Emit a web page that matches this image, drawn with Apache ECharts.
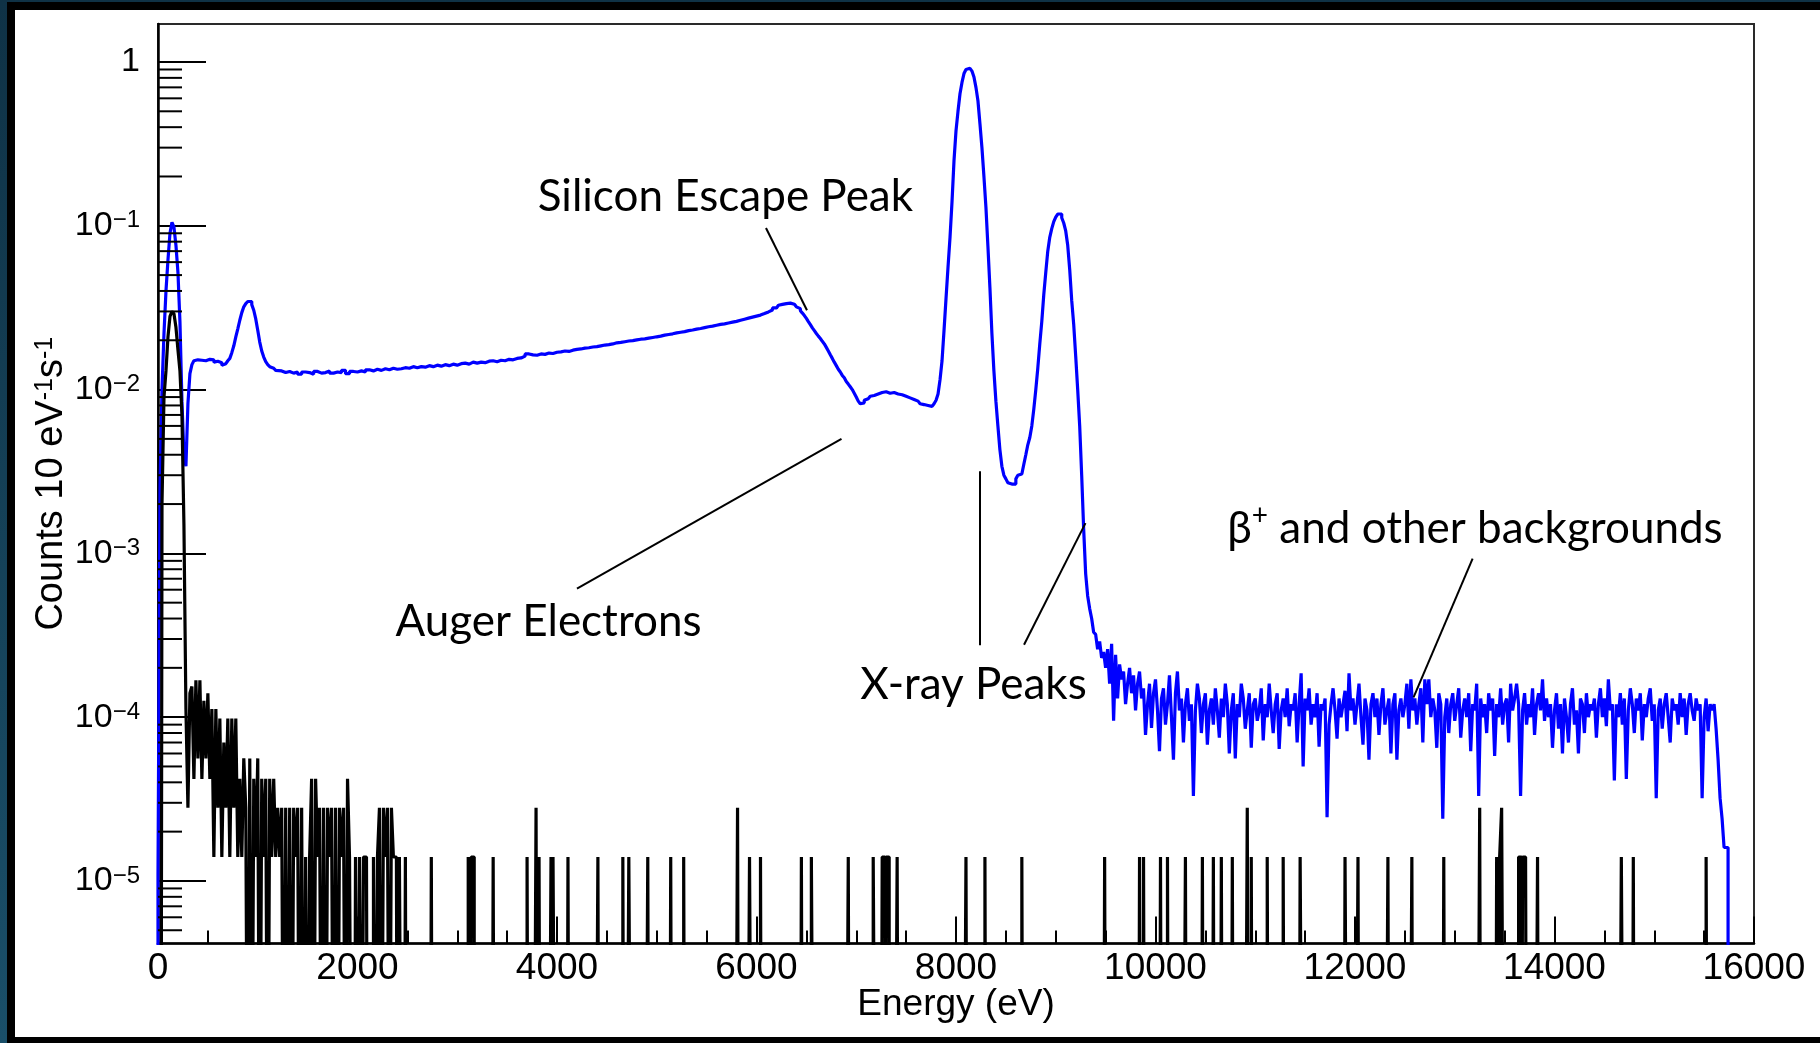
<!DOCTYPE html>
<html>
<head>
<meta charset="utf-8">
<title>Energy spectrum</title>
<script src="https://cdn.jsdelivr.net/npm/echarts@6/dist/echarts.min.js"></script>
<style>
  html, body { margin: 0; padding: 0; width: 1820px; height: 1043px; overflow: hidden;
    background: linear-gradient(180deg, #0f3246 0%, #1a4f69 100%); }
  #panel { position: absolute; left: 7px; top: 2px; width: 1830px; height: 1043px;
    box-sizing: border-box; border: 8px solid #000; background: #fff; }
  #chart { position: absolute; left: 0; top: 0; width: 1820px; height: 1043px; }
</style>
</head>
<body>
<div id="panel"></div>
<div id="chart"></div>
<script>
// ---- Spectrum data (counts per 10 eV per second) ----

// Blue spectrum, 0-400 eV, 20 eV bins
const blueLowStart = 0, blueLowWidth = 20;
const blueLow = [
  1.1e-5, 2.5e-3, 1.0e-2, 2.2e-2, 4.0e-2, 6.2e-2, 9.0e-2, 0.105, 9.8e-2, 7.6e-2,
  5.2e-2, 2.6e-2, 8.5e-3, 4.0e-3, 3.4e-3, 8.2e-3, 1.25e-2, 1.42e-2, 1.5e-2, 1.52e-2
];

// Blue spectrum, 400-1200 eV, 20 eV bins (shelf and the ~0.9 keV line)
const blueLineStart = 400, blueLineWidth = 20;
const blueLine = [
  1.49e-2, 1.51e-2, 1.52e-2, 1.5e-2, 1.5e-2, 1.53e-2, 1.55e-2, 1.52e-2, 1.47e-2, 1.49e-2,
  1.5e-2, 1.46e-2, 1.41e-2, 1.44e-2, 1.46e-2, 1.5e-2, 1.55e-2, 1.68e-2, 1.85e-2, 2.1e-2,
  2.35e-2, 2.65e-2, 2.95e-2, 3.2e-2, 3.35e-2, 3.45e-2, 3.45e-2, 3.3e-2, 3.05e-2, 2.7e-2,
  2.3e-2, 1.95e-2, 1.72e-2, 1.58e-2, 1.48e-2, 1.42e-2, 1.38e-2, 1.35e-2, 1.33e-2, 1.31e-2
];

// Blue spectrum, 1200-6200 eV, 40 eV bins (slowly rising continuum)
const blueFlatStart = 1200, blueFlatWidth = 40;
const blueFlat = [
  1.3e-2, 1.27e-2, 1.29e-2, 1.26e-2, 1.28e-2, 1.24e-2, 1.28e-2, 1.27e-2, 1.24e-2, 1.29e-2,
  1.26e-2, 1.27e-2, 1.3e-2, 1.26e-2, 1.28e-2, 1.27e-2, 1.31e-2, 1.25e-2, 1.29e-2, 1.28e-2,
  1.3e-2, 1.28e-2, 1.32e-2, 1.3e-2, 1.33e-2, 1.31e-2, 1.34e-2, 1.32e-2, 1.35e-2, 1.33e-2,
  1.34e-2, 1.36e-2, 1.35e-2, 1.38e-2, 1.36e-2, 1.38e-2, 1.37e-2, 1.4e-2, 1.38e-2, 1.41e-2,
  1.39e-2, 1.42e-2, 1.4e-2, 1.43e-2, 1.41e-2, 1.44e-2, 1.45e-2, 1.43e-2, 1.47e-2, 1.45e-2,
  1.47e-2, 1.46e-2, 1.49e-2, 1.5e-2, 1.48e-2, 1.51e-2, 1.5e-2, 1.53e-2, 1.52e-2, 1.55e-2,
  1.56e-2, 1.6e-2, 1.65e-2, 1.63e-2, 1.62e-2, 1.65e-2, 1.64e-2, 1.67e-2, 1.66e-2, 1.69e-2,
  1.7e-2, 1.72e-2, 1.71e-2, 1.74e-2, 1.76e-2, 1.77e-2, 1.79e-2, 1.8e-2, 1.82e-2, 1.83e-2,
  1.85e-2, 1.87e-2, 1.88e-2, 1.9e-2, 1.93e-2, 1.94e-2, 1.96e-2, 1.98e-2, 1.99e-2, 2.01e-2,
  2.03e-2, 2.04e-2, 2.06e-2, 2.08e-2, 2.1e-2, 2.12e-2, 2.15e-2, 2.17e-2, 2.19e-2, 2.22e-2,
  2.24e-2, 2.26e-2, 2.29e-2, 2.31e-2, 2.34e-2, 2.36e-2, 2.39e-2, 2.42e-2, 2.44e-2, 2.47e-2,
  2.5e-2, 2.52e-2, 2.55e-2, 2.58e-2, 2.61e-2, 2.65e-2, 2.69e-2, 2.73e-2, 2.77e-2, 2.81e-2,
  2.85e-2, 2.91e-2, 2.98e-2, 3.06e-2, 3.15e-2
];

// Blue spectrum, 6200-7720 eV, 20 eV bins (escape peak edge and Auger region)
const blueEscStart = 6200, blueEscWidth = 20;
const blueEsc = [
  3.22e-2, 3.27e-2, 3.31e-2, 3.34e-2, 3.35e-2, 3.37e-2, 3.37e-2, 3.35e-2, 3.32e-2, 3.27e-2,
  3.2e-2, 3.12e-2, 3.03e-2, 2.93e-2, 2.83e-2, 2.72e-2, 2.6e-2, 2.49e-2, 2.38e-2, 2.29e-2,
  2.2e-2, 2.12e-2, 2.05e-2, 1.97e-2, 1.9e-2, 1.81e-2, 1.72e-2, 1.63e-2, 1.55e-2, 1.47e-2,
  1.4e-2, 1.33e-2, 1.28e-2, 1.22e-2, 1.18e-2, 1.12e-2, 1.08e-2, 1.04e-2, 1.0e-2, 9.5e-3,
  9.0e-3, 8.5e-3, 8.2e-3, 8.3e-3, 8.6e-3, 8.8e-3, 9.0e-3, 9.1e-3, 9.2e-3, 9.3e-3,
  9.4e-3, 9.5e-3, 9.6e-3, 9.6e-3, 9.7e-3, 9.6e-3, 9.5e-3, 9.5e-3, 9.6e-3, 9.5e-3,
  9.4e-3, 9.4e-3, 9.3e-3, 9.2e-3, 9.1e-3, 9.0e-3, 8.9e-3, 8.8e-3, 8.7e-3, 8.6e-3,
  8.5e-3, 8.4e-3, 8.2e-3, 8.1e-3, 8.0e-3, 8.0e-3
];

// Blue spectrum, 7720-15740 eV, 20 eV bins (X-ray peaks and flat background)
const blueHighStart = 7720, blueHighWidth = 20;
const blueHigh = [
  8.0e-3, 7.9e-3, 8.0e-3, 8.2e-3, 8.6e-3, 9.4e-3, 1.15e-2, 1.5e-2, 2.3e-2, 3.6e-2,
  5.6e-2, 8.5e-2, 0.14, 0.25, 0.38, 0.5, 0.64, 0.75, 0.85, 0.9,
  0.915, 0.91, 0.88, 0.81, 0.7, 0.58, 0.42, 0.3, 0.2, 0.13,
  7.5e-2, 4.2e-2, 2.2e-2, 1.3e-2, 8.5e-3, 6.0e-3, 4.3e-3, 3.4e-3, 3.0e-3, 2.85e-3,
  2.7e-3, 2.65e-3, 2.6e-3, 2.65e-3, 2.85e-3, 3.0e-3, 3.05e-3, 3.1e-3, 3.5e-3, 4.0e-3,
  4.6e-3, 5.1e-3, 6.0e-3, 7.6e-3, 1.0e-2, 1.35e-2, 1.9e-2, 2.6e-2, 3.8e-2, 5.2e-2,
  7.0e-2, 8.5e-2, 9.6e-2, 0.106, 0.113, 0.118, 0.118, 0.112, 0.104, 9.3e-2,
  7.6e-2, 5.4e-2, 3.5e-2, 2.5e-2, 1.6e-2, 1.0e-2, 6.0e-3, 3.0e-3, 1.4e-3, 7.5e-4,
  5.5e-4, 4.6e-4, 4.0e-4, 3.3e-4, 3.2e-4, 2.6e-4, 2.9e-4, 2.3e-4, 2.5e-4, 2.0e-4,
  2.6e-4, 1.6e-4, 2.8e-4, 9.5e-5, 2.4e-4, 1.3e-4, 2.1e-4, 1.7e-4, 1.9e-4, 1.2e-4,
  1.6e-4, 2.0e-4, 1.4e-4, 1.8e-4, 1.1e-4, 1.6e-4, 1.9e-4, 1.3e-4, 1.5e-4, 7.8e-5,
  1.2e-4, 1.6e-4, 8.6e-5, 1.4e-4, 1.7e-4, 1.1e-4, 6.2e-5, 1.3e-4, 1.5e-4, 9.0e-5,
  1.2e-4, 1.8e-4, 1.0e-4, 5.5e-5, 1.4e-4, 1.9e-4, 1.1e-4, 1.3e-4, 7.0e-5, 1.2e-4,
  1.5e-4, 9.5e-5, 1.2e-4, 3.3e-5, 1.1e-4, 1.6e-4, 1.3e-4, 8.0e-5, 1.2e-4, 1.4e-4,
  6.8e-5, 1.1e-4, 1.3e-4, 9.0e-5, 1.5e-4, 1.1e-4, 7.5e-5, 1.3e-4, 1.0e-4, 1.6e-4,
  1.2e-4, 6.0e-5, 1.1e-4, 1.4e-4, 5.6e-5, 1.2e-4, 1.0e-4, 1.6e-4, 1.3e-4, 8.5e-5,
  1.1e-4, 1.4e-4, 6.5e-5, 1.2e-4, 1.3e-4, 9.5e-5, 1.1e-4, 1.5e-4, 7.2e-5, 1.2e-4,
  1.0e-4, 1.6e-4, 1.1e-4, 8.0e-5, 1.2e-4, 1.4e-4, 6.4e-5, 1.1e-4, 1.3e-4, 1.0e-4,
  1.5e-4, 8.8e-5, 1.2e-4, 1.1e-4, 1.4e-4, 7.0e-5, 1.2e-4, 1.85e-4, 5.0e-5, 1.3e-4,
  1.1e-4, 1.5e-4, 9.0e-5, 1.2e-4, 1.0e-4, 1.4e-4, 6.6e-5, 1.2e-4, 1.1e-4, 1.3e-4,
  2.45e-5, 9.0e-5, 1.2e-4, 1.5e-4, 1.1e-4, 7.4e-5, 1.3e-4, 1.0e-4, 1.2e-4, 1.45e-4,
  8.2e-5, 1.85e-4, 1.1e-4, 1.3e-4, 9.0e-5, 1.2e-4, 1.6e-4, 1.0e-4, 6.8e-5, 1.3e-4,
  1.1e-4, 5.5e-5, 1.2e-4, 1.4e-4, 1.0e-4, 1.3e-4, 7.8e-5, 1.2e-4, 1.5e-4, 9.0e-5,
  1.1e-4, 1.3e-4, 6.0e-5, 1.2e-4, 1.4e-4, 5.5e-5, 1.1e-4, 1.3e-4, 1.0e-4, 1.2e-4,
  1.6e-4, 8.5e-5, 1.7e-4, 1.1e-4, 1.3e-4, 9.0e-5, 1.2e-4, 1.5e-4, 7.0e-5, 1.7e-4,
  1.2e-4, 1.7e-4, 1.0e-4, 1.3e-4, 1.1e-4, 6.5e-5, 1.4e-4, 1.2e-4, 2.4e-5, 1.0e-4,
  1.3e-4, 8.0e-5, 1.2e-4, 1.4e-4, 9.5e-5, 1.2e-4, 1.5e-4, 7.5e-5, 1.1e-4, 1.3e-4,
  1.0e-4, 1.4e-4, 6.2e-5, 1.2e-4, 1.1e-4, 1.6e-4, 3.3e-5, 1.3e-4, 1.0e-4, 1.2e-4,
  8.0e-5, 1.4e-4, 1.1e-4, 1.3e-4, 5.8e-5, 1.2e-4, 1.0e-4, 1.5e-4, 9.0e-5, 1.2e-4,
  1.3e-4, 7.0e-5, 1.6e-4, 1.1e-4, 1.3e-4, 1.6e-4, 1.2e-4, 3.3e-5, 1.1e-4, 1.4e-4,
  9.0e-5, 1.2e-4, 1.0e-4, 1.5e-4, 7.8e-5, 1.2e-4, 1.4e-4, 1.1e-4, 1.7e-4, 9.5e-5,
  1.3e-4, 1.0e-4, 1.2e-4, 6.5e-5, 1.1e-4, 1.4e-4, 8.5e-5, 1.2e-4, 6.0e-5, 1.3e-4,
  1.0e-4, 7.0e-5, 1.2e-4, 1.5e-4, 9.0e-5, 1.1e-4, 6.0e-5, 1.3e-4, 1.2e-4, 8.0e-5,
  1.4e-4, 1.0e-4, 1.2e-4, 1.1e-4, 1.3e-4, 7.5e-5, 1.2e-4, 1.5e-4, 1.0e-4, 1.3e-4,
  8.8e-5, 1.7e-4, 1.1e-4, 1.2e-4, 4.1e-5, 1.2e-4, 1.0e-4, 1.4e-4, 9.0e-5, 1.3e-4,
  4.2e-5, 1.1e-4, 1.5e-4, 1.2e-4, 8.0e-5, 1.3e-4, 1.1e-4, 1.4e-4, 7.2e-5, 1.2e-4,
  1.0e-4, 1.3e-4, 1.5e-4, 9.5e-5, 1.2e-4, 3.2e-5, 1.1e-4, 1.3e-4, 8.5e-5, 1.2e-4,
  1.4e-4, 1.0e-4, 7.0e-5, 1.3e-4, 1.1e-4, 1.2e-4, 9.0e-5, 1.4e-4, 1.0e-4, 1.3e-4,
  7.8e-5, 1.2e-4, 1.4e-4, 1.1e-4, 9.5e-5, 1.3e-4, 1.1e-4, 1.2e-4, 3.2e-5, 1.0e-4,
  1.3e-4, 8.2e-5, 1.2e-4, 1.1e-4, 1.2e-4, 8.5e-5, 5.5e-5, 3.2e-5, 2.4e-5, 1.6e-5,
  1.6e-5
];

// Black spectrum, 40-280 eV, 20 eV bins (low-energy peak)
const blackPeakStart = 40, blackPeakWidth = 20;
const blackPeak = [
  2.0e-3, 9.0e-3, 1.3e-2, 2.1e-2, 2.8e-2, 3.0e-2, 2.9e-2, 2.4e-2, 1.75e-2, 1.3e-2,
  7.0e-3, 1.5e-3
];

// Black spectrum, 280-2480 eV, 20 eV bins (falling tail, 0 = empty bin)
const blackTailStart = 280, blackTailWidth = 20;
const blackTail = [
  1.12e-4, 2.8e-5, 1.4e-4, 1.54e-4, 4.2e-5, 1.68e-4, 5.6e-5, 1.68e-4, 4.2e-5, 1.26e-4,
  5.6e-5, 1.4e-4, 4.2e-5, 1.12e-4, 1.4e-5, 1.12e-4, 2.8e-5, 9.8e-5, 1.4e-5, 7.0e-5,
  2.8e-5, 9.8e-5, 1.4e-5, 9.8e-5, 2.8e-5, 9.8e-5, 1.4e-5, 4.2e-5, 1.4e-5, 5.6e-5,
  2.8e-5, 0, 5.6e-5, 0, 4.2e-5, 1.4e-5, 5.6e-5, 0, 4.2e-5, 1.4e-5,
  4.2e-5, 0, 4.2e-5, 1.4e-5, 4.2e-5, 1.4e-5, 2.8e-5, 1.4e-5, 2.8e-5, 0,
  2.8e-5, 0, 2.8e-5, 0, 2.8e-5, 1.4e-5, 2.8e-5, 0, 2.8e-5, 0,
  1.4e-5, 0, 1.4e-5, 4.2e-5, 0, 4.2e-5, 1.4e-5, 2.8e-5, 0, 2.8e-5,
  0, 2.8e-5, 1.4e-5, 2.8e-5, 0, 2.8e-5, 0, 2.8e-5, 1.4e-5, 2.8e-5,
  0, 4.2e-5, 1.4e-5, 0, 0, 1.4e-5, 0, 1.4e-5, 0, 1.4e-5,
  1.4e-5, 0, 0, 0, 1.4e-5, 0, 1.4e-5, 2.8e-5, 0, 2.8e-5,
  1.4e-5, 2.8e-5, 0, 2.8e-5, 1.4e-5, 1.4e-5, 0, 1.4e-5, 0, 0
];

// Black spectrum above 2.4 keV: isolated counts as [from eV, to eV, rate]
const blackSpikes = [
  [2480, 2490, 1.4e-5], [2740, 2750, 1.4e-5], [3110, 3130, 1.4e-5], [3140, 3170, 1.4e-5],
  [3360, 3370, 1.4e-5], [3700, 3710, 1.4e-5], [3790, 3800, 2.8e-5], [3820, 3830, 1.4e-5],
  [3940, 3950, 1.4e-5], [3960, 3980, 1.4e-5], [4110, 4120, 1.4e-5], [4410, 4420, 1.4e-5],
  [4660, 4670, 1.4e-5], [4720, 4740, 1.4e-5], [4910, 4920, 1.4e-5], [5140, 5150, 1.4e-5],
  [5270, 5280, 1.4e-5], [5810, 5820, 2.8e-5], [5930, 5950, 1.4e-5], [6040, 6050, 1.4e-5],
  [6450, 6460, 1.4e-5], [6550, 6570, 1.4e-5], [6920, 6930, 1.4e-5], [7170, 7190, 1.4e-5],
  [7260, 7290, 1.4e-5], [7300, 7330, 1.4e-5], [7410, 7420, 1.4e-5], [8100, 8110, 1.4e-5],
  [8290, 8300, 1.4e-5], [8660, 8670, 1.4e-5], [9490, 9500, 1.4e-5], [9840, 9850, 1.4e-5],
  [9880, 9890, 1.4e-5], [10050, 10060, 1.4e-5], [10120, 10130, 1.4e-5], [10300, 10310, 1.4e-5],
  [10470, 10480, 1.4e-5], [10580, 10590, 1.4e-5], [10660, 10670, 1.4e-5], [10770, 10780, 1.4e-5],
  [10920, 10930, 2.8e-5], [10960, 10970, 1.4e-5], [11120, 11130, 1.4e-5], [11280, 11290, 1.4e-5],
  [11450, 11470, 1.4e-5], [11900, 11920, 1.4e-5], [12030, 12040, 1.4e-5], [12330, 12340, 1.4e-5],
  [12570, 12580, 1.4e-5], [12890, 12900, 1.4e-5], [13250, 13260, 2.8e-5], [13420, 13440, 1.4e-5],
  [13450, 13470, 1.4e-5], [13470, 13490, 2.8e-5], [13640, 13670, 1.4e-5], [13680, 13720, 1.4e-5],
  [13830, 13840, 1.4e-5], [14670, 14690, 1.4e-5], [14790, 14800, 1.4e-5], [15520, 15530, 1.4e-5]
];
const blackGrid = 10, blackEnd = 16000;

// Axis ranges and tick labels
const X_MIN = 0, X_MAX = 16000, X_STEP = 2000;
const Y_MIN = 4.15e-6, Y_MAX = 1.706;
const yTickLabels = { '-5': '10', '-4': '10', '-3': '10', '-2': '10', '-1': '10', '0': '1' };

// Annotations: label text with its anchor, and leader lines, in data coordinates
const noteTexts = [
  { text: '{t|Silicon Escape Peak}', at: [5688, 0.15] },
  { text: '{t|Auger Electrons}', at: [3915, 3.8e-4] },
  { text: '{t|X-ray Peaks}', at: [8175, 1.58e-4] },
  { text: '{t|\u03b2}{p|+}{t| and other backgrounds}', at: [13203, 1.42e-3] }
];
const noteLines = [
  [[6095, 9.7e-2], [6506, 3.05e-2]],
  [[6852, 5.0e-3], [4200, 6.1e-4]],
  [[8241, 3.17e-3], [8241, 2.75e-4]],
  [[9298, 1.53e-3], [8682, 2.77e-4]],
  [[13179, 9.3e-4], [12587, 1.32e-4]]
];

// ---- Build histogram outlines ----
// Empty bins on a log axis are drawn down to below the frame, like a ROOT histogram.
const FLOOR = 1e-7;

function binPoints(start, width, values) {
  return values.map((v, i) => [start + i * width, v > 0 ? v : FLOOR]);
}

const bluePoints = [[0, FLOOR]]
  .concat(binPoints(blueLowStart, blueLowWidth, blueLow))
  .concat(binPoints(blueLineStart, blueLineWidth, blueLine))
  .concat(binPoints(blueFlatStart, blueFlatWidth, blueFlat))
  .concat(binPoints(blueEscStart, blueEscWidth, blueEsc))
  .concat(binPoints(blueHighStart, blueHighWidth, blueHigh));
bluePoints.push([blueHighStart + blueHigh.length * blueHighWidth, FLOOR]);

// Black histogram on a 10 eV grid
const blackValues = new Array(blackEnd / blackGrid).fill(0);
function fillRange(from, to, v) {
  for (let e = from; e < to; e += blackGrid) blackValues[Math.round(e / blackGrid)] = v;
}
blackPeak.forEach((v, i) => fillRange(blackPeakStart + i * blackPeakWidth, blackPeakStart + (i + 1) * blackPeakWidth, v));
blackTail.forEach((v, i) => fillRange(blackTailStart + i * blackTailWidth, blackTailStart + (i + 1) * blackTailWidth, v));
blackSpikes.forEach(s => fillRange(s[0], s[1], s[2]));
const blackPoints = binPoints(0, blackGrid, blackValues);
blackPoints.push([blackEnd, FLOOR]);

// ---- Chart ----
const AXIS_FONT = '"Liberation Sans", Arial, Helvetica, sans-serif';
const NOTE_FONT = 'Lato, "Open Sans", sans-serif';

const chart = echarts.init(document.getElementById('chart'), null, { renderer: 'canvas' });

const option = {
  animation: false,
  backgroundColor: 'transparent',
  grid: {
    left: 158, right: 66, top: 24, bottom: 99.5,
    show: true, borderColor: '#2a2a2a', borderWidth: 2, backgroundColor: 'transparent',
    outerBoundsMode: 'none'
  },
  xAxis: {
    type: 'value', min: X_MIN, max: X_MAX, interval: X_STEP,
    axisLine: { show: true, onZero: false, lineStyle: { color: '#000', width: 2.5 } },
    axisTick: { show: true, inside: true, length: 27, lineStyle: { color: '#000', width: 2 } },
    minorTick: { show: true, splitNumber: 4, length: 13, lineStyle: { color: '#000', width: 2 } },
    splitLine: { show: false },
    axisLabel: { color: '#000', fontFamily: AXIS_FONT, fontSize: 37, margin: 7,
      showMinLabel: true, showMaxLabel: true,
      formatter: function (v) { return String(v); } },
    name: 'Energy (eV)', nameLocation: 'middle', nameGap: 43, nameMoveOverlap: false,
    nameTextStyle: { color: '#000', fontFamily: AXIS_FONT, fontSize: 37 }
  },
  yAxis: {
    type: 'log', logBase: 10, min: Y_MIN, max: Y_MAX,
    axisLine: { show: true, onZero: false, lineStyle: { color: '#000', width: 2.5 } },
    axisTick: { show: true, inside: true, length: 48, lineStyle: { color: '#000', width: 2 } },
    splitLine: { show: false },
    axisLabel: {
      margin: 18, showMinLabel: false, showMaxLabel: false,
      formatter: function (v) {
        const lg = Math.log10(v), e = Math.round(lg);
        if (Math.abs(lg - e) > 1e-6 || yTickLabels[String(e)] === undefined) return '';
        if (e === 0) return '{b|' + yTickLabels['0'] + '}';
        return '{b|' + yTickLabels[String(e)] + '}{s|\u2212' + (-e) + '}';
      },
      rich: {
        b: { color: '#000', fontFamily: AXIS_FONT, fontSize: 34, lineHeight: 34, verticalAlign: 'bottom' },
        s: { color: '#000', fontFamily: AXIS_FONT, fontSize: 24, lineHeight: 8, verticalAlign: 'top' }
      }
    },
    name: '{t|Counts 10 eV}{u|-1}{t|s}{u|-1}',
    nameLocation: 'middle', nameRotate: 90, nameGap: 87, nameMoveOverlap: false,
    nameTextStyle: {
      rich: {
        t: { color: '#000', fontFamily: AXIS_FONT, fontSize: 38, lineHeight: 38, verticalAlign: 'bottom' },
        u: { color: '#000', fontFamily: AXIS_FONT, fontSize: 25, lineHeight: 12, verticalAlign: 'top' }
      }
    }
  },
  series: [
    {
      name: 'Source spectrum', type: 'line', step: 'end', data: bluePoints,
      showSymbol: false, symbol: 'none', clip: true, silent: true, z: 2,
      lineStyle: { color: '#0000ff', width: 3.2 }, itemStyle: { color: '#0000ff' },
      markLine: {
        silent: true, symbol: ['none', 'none'], label: { show: false },
        lineStyle: { color: '#000', width: 2, type: 'solid' },
        emphasis: { disabled: true },
        data: noteLines.map(l => [{ coord: l[0] }, { coord: l[1] }])
      }
    },
    {
      name: 'Background spectrum', type: 'line', step: 'end', data: blackPoints,
      showSymbol: false, symbol: 'none', clip: true, silent: true, z: 3,
      lineStyle: { color: '#000', width: 3.2 }, itemStyle: { color: '#000' }
    }
  ]
};

chart.setOption(option);

// Minor log ticks (2..9 x 10^n) along the left axis, placed with the axis scale
const minorTickValues = [];
for (let e = -6; e <= 0; e++) {
  for (let k = 2; k <= 9; k++) {
    const v = k * Math.pow(10, e);
    if (v >= Y_MIN && v <= Y_MAX) minorTickValues.push(v);
  }
}
const axisX = chart.convertToPixel({ xAxisIndex: 0 }, X_MIN);
const graphics = minorTickValues.map(v => {
  const y = chart.convertToPixel({ yAxisIndex: 0 }, v);
  return { type: 'line', silent: true, z: 10,
    shape: { x1: axisX, y1: y, x2: axisX + 24, y2: y },
    style: { stroke: '#000', lineWidth: 2 } };
});

// Annotation labels
const noteRich = {
  t: { fontFamily: NOTE_FONT, fontSize: 44, lineHeight: 52, fill: '#000', color: '#000' },
  p: { fontFamily: NOTE_FONT, fontSize: 28, lineHeight: 40, verticalAlign: 'top', fill: '#000', color: '#000' }
};
noteTexts.forEach(n => {
  const p = chart.convertToPixel({ gridIndex: 0 }, n.at);
  graphics.push({ type: 'text', silent: true, z: 20, x: p[0], y: p[1],
    style: { text: n.text, rich: noteRich, fontFamily: NOTE_FONT, fontSize: 44, fill: '#000',
      align: 'center', verticalAlign: 'middle' } });
});

chart.setOption({ graphic: graphics });
</script>
</body>
</html>
